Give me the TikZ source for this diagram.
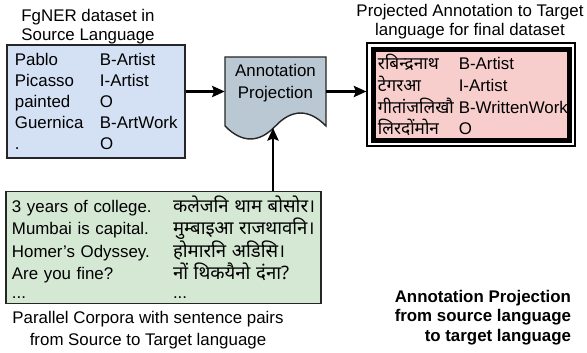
\documentclass[tikz,border=0pt]{standalone}
\usepackage{fontspec}
\setmainfont{Liberation Sans}
\newfontfamily\devfont[Script=Devanagari, Scale=1.1]{Noto Sans}
\newfontfamily\devtag[Script=Devanagari, Scale=1.02]{Noto Sans}
\usetikzlibrary{arrows.meta}
\definecolor{srcblue}{HTML}{D4E1F5}
\definecolor{projgrey}{HTML}{BAC8D3}
\definecolor{tgtpink}{HTML}{F8CECC}
\definecolor{pargreen}{HTML}{D5E8D4}
\newcommand{\tabrow}[3]{\makebox[#1][l]{#2}\mbox{#3}}
\tikzset{
  box/.style={draw=black!85, line width=1pt},
  arr/.style={line width=1.5pt, -{Stealth[length=9pt,width=8pt,inset=1.5pt]}},
  rows/.style={align=left, font=\fontsize{12}{#1}\selectfont},
}

\begin{document}
\begin{tikzpicture}[x=0.025cm, y=-0.025cm, font=\fontsize{12}{13.5}\selectfont]
        \useasboundingbox (0,0) rectangle (587,353);
        % source dataset
        \node (srctitle) at (88,27) [align=center] {FgNER dataset in\\Source Language};
        \node (src) at (96,101.5) [box, fill=srcblue, rows=14.9pt, text width=4.05cm,
            inner xsep=0.2cm, minimum height=2.825cm] {%
            \tabrow{2.125cm}{Pablo}{B-Artist}\\
            \tabrow{2.125cm}{Picasso}{I-Artist}\\
            \tabrow{2.125cm}{painted}{O}\\
            \tabrow{2.125cm}{Guernica}{B-ArtWork}\\
            \tabrow{2.125cm}{.}{O}};
        % projection step
        \draw[box, fill=projgrey] (225,57) -- (326,57) -- (326,126)
            .. controls (309,108.7) and (292,108.7) .. (275.5,126)
            .. controls (259,143.3) and (242,143.3) .. (225,126) -- cycle;
        \node (proj) at (275.5,91.5) [align=center, minimum width=2.525cm,
            minimum height=1.725cm, text depth=14pt,
            font=\fontsize{12}{15.5}\selectfont] {Annotation\\Projection};
        \coordinate (projbot) at (273,128);
        % target dataset
        \node (tgttitle) at (470,21.5) [align=center] {Projected Annotation to Target\\language for final dataset};
        \node (tgtframe) at (471,94.5) [draw, line width=0.8pt, fill=white,
            minimum width=5.2cm, minimum height=2.575cm] {};
        \node (tgt) at (471.5,95) [draw, line width=3.5pt, fill=tgtpink, rows=15.5pt,
            text width=4.675cm, inner xsep=0.1125cm, minimum height=2.26cm] {%
            \tabrow{2.02cm}{\devtag रबिन्द्रनाथ}{B-Artist}\\
            \tabrow{2.02cm}{\devtag टेगरआ}{I-Artist}\\
            \tabrow{2.02cm}{\devtag गीतांजलिखौ}{B-WrittenWork}\\
            \tabrow{2.02cm}{\devtag लिरदोंमोन}{O}};
        % parallel corpora
        \node (par) at (163.5,247.5) [box, fill=pargreen, rows=13.9pt, text width=7.575cm,
            inner xsep=0.15cm, minimum height=2.775cm] {%
            \tabrow{4.025cm}{3 years of college.}{\devfont कलेजनि थाम बोसोर।}\\
            \tabrow{4.025cm}{Mumbai is capital.}{\devfont मुम्बाइआ राजथावनि।}\\
            \tabrow{4.025cm}{Homer's Odyssey.}{\devfont होमारनि अडिसि।}\\
            \tabrow{4.025cm}{Are you fine?}{\devfont नों थिकयैनो दंना?}\\
            \tabrow{4.025cm}{...}{...}};
        \node (partitle) at (148,330) [align=center, font=\fontsize{12}{15.5}\selectfont]
            {Parallel Corpora with sentence pairs\\from Source to Target language};
        \node (note) at (576,317.5) [anchor=east, align=right,
            font=\fontsize{12}{13.9}\selectfont\bfseries]
            {Annotation Projection\\from source language\\to target language};
        % connectors
        \draw[arr] (src.east |- proj.west) -- (proj.west);
        \draw[arr] (proj.east) -- (tgtframe.west |- proj.east);
        \draw[arr] (par.north -| projbot) -- (projbot);
        \end{tikzpicture}
\end{document}
